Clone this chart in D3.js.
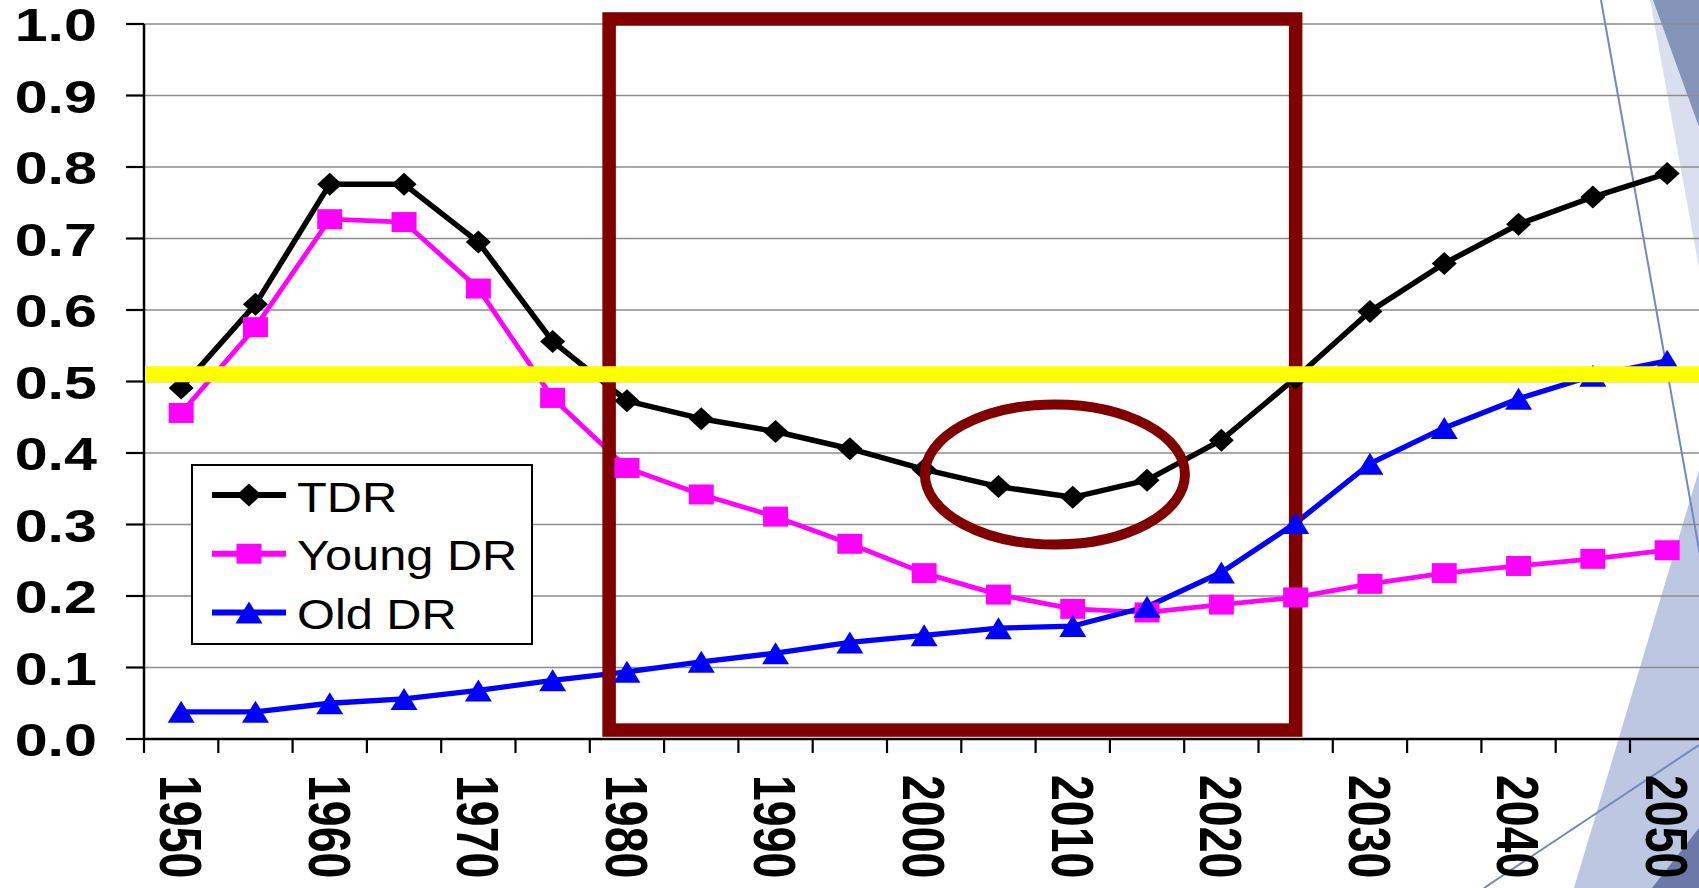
<!DOCTYPE html>
<html><head><meta charset="utf-8">
<script src="https://cdn.jsdelivr.net/npm/d3@7"></script>
<style>html,body{margin:0;padding:0;background:#fff;overflow:hidden}</style>
</head><body>
<svg id="c" width="1699" height="888"></svg>
<script>
// ---------- data ----------
const years = ["1950","1955","1960","1965","1970","1975","1980","1985","1990","1995","2000",
               "2005","2010","2015","2020","2025","2030","2035","2040","2045","2050"];
const tdr     = [0.491,0.608,0.776,0.776,0.695,0.556,0.473,0.448,0.430,0.406,0.377,
                 0.353,0.338,0.362,0.418,0.505,0.598,0.665,0.720,0.758,0.791];
const youngDR = [0.456,0.576,0.727,0.723,0.630,0.477,0.379,0.342,0.311,0.273,0.232,
                 0.202,0.182,0.177,0.188,0.198,0.217,0.232,0.242,0.252,0.264];
const oldDR   = [0.038,0.038,0.050,0.056,0.068,0.082,0.094,0.108,0.120,0.135,0.145,
                 0.155,0.158,0.185,0.233,0.302,0.385,0.435,0.476,0.508,0.529];
const seriesNames = ["TDR","Young DR","Old DR"];
const yTicks = [0,0.1,0.2,0.3,0.4,0.5,0.6,0.7,0.8,0.9,1.0];
const xTickLabels = ["1950","1960","1970","1980","1990","2000","2010","2020","2030","2040","2050"];
const thresholdValue = 0.51;
const boxYears = [1978.8, 2025.0];
const boxValues = [0.0125, 1.007];
const ellipseCenter = [2008.8, 0.370];
const ellipseRadius = [8.75, 0.098];

(function () {
// ---------- setup ----------
const W = 1699, H = 888;
const svg = d3.select("#c");
const pLeft = 144, bandW = 74.3, pTop = 24, pBottom = 739;
const x = d3.scaleBand().domain(years).range([pLeft, pLeft + years.length * bandW]).padding(0);
const y = d3.scaleLinear().domain([0, 1]).range([pBottom, pTop]);
const cx = d => x(d) + x.bandwidth() / 2;
const yearX = d3.scaleLinear().domain([+years[0], +years[years.length - 1]])
  .range([cx(years[0]), cx(years[years.length - 1])]);

// ---------- decorative slide shapes ----------
const deco = svg.append("g");
deco.append("polygon").attr("points", "1650,0 1699,0 1699,268").attr("fill", "#d9dfee");
deco.append("polygon").attr("points", "1653,0 1699,0 1699,127").attr("fill", "#8494b9");
deco.append("polygon").attr("points", "1699,470 1699,888 1574,888").attr("fill", "#bdc7e1");
deco.append("polygon").attr("points", "1699,828 1699,888 1652,888").attr("fill", "#6a79a8");
deco.append("line").attr("x1", 1601).attr("y1", 0).attr("x2", 1700).attr("y2", 555)
  .attr("stroke", "#7288c2").attr("stroke-width", 2);
deco.append("line").attr("x1", 1484).attr("y1", 888).attr("x2", 1699).attr("y2", 745)
  .attr("stroke", "#7288c2").attr("stroke-width", 2);

// ---------- gridlines ----------
svg.append("g").selectAll("line").data(yTicks.filter(d => d > 0)).join("line")
  .attr("x1", pLeft).attr("x2", W).attr("y1", d => y(d)).attr("y2", d => y(d))
  .attr("stroke", "#8c8c8c").attr("stroke-width", 1.6);

// ---------- axes ----------
const ax = svg.append("g").attr("stroke", "#000");
ax.append("line").attr("x1", pLeft).attr("x2", pLeft).attr("y1", pTop).attr("y2", pBottom + 1).attr("stroke-width", 2.5);
ax.append("line").attr("x1", pLeft).attr("x2", W).attr("y1", pBottom).attr("y2", pBottom).attr("stroke-width", 2.5);
ax.append("g").selectAll("line").data(yTicks).join("line")
  .attr("x1", pLeft - 18).attr("x2", pLeft).attr("y1", d => y(d)).attr("y2", d => y(d)).attr("stroke-width", 2.2);
ax.append("g").selectAll("line").data(years).join("line")
  .attr("x1", d => x(d)).attr("x2", d => x(d)).attr("y1", pBottom).attr("y2", pBottom + 14).attr("stroke-width", 2.2);

const fmt = d3.format(".1f");
svg.append("g").selectAll("text").data(yTicks).join("text")
  .attr("transform", d => `translate(97,${y(d) + 17}) scale(1.26,1)`)
  .attr("text-anchor", "end")
  .attr("font-family", "Liberation Sans, Arial, sans-serif")
  .attr("font-weight", "bold").attr("font-size", 47)
  .attr("fill", "#000").text(d => fmt(d));

const xfs = 46.5;
svg.append("g").selectAll("text").data(xTickLabels).join("text")
  .attr("transform", d => `translate(${cx(d)},775) scale(1.27,1) rotate(90)`)
  .attr("x", 0).attr("y", 0.358 * xfs)
  .attr("text-anchor", "start")
  .attr("font-family", "Liberation Sans, Arial, sans-serif")
  .attr("font-weight", "bold").attr("font-size", xfs)
  .attr("fill", "#000").text(d => d);

// ---------- series ----------
const series = [
  {name: seriesNames[0], values: tdr, color: "#000000", width: 5.5, shape: "diamond"},
  {name: seriesNames[1], values: youngDR, color: "#ff00ff", width: 4.8, shape: "square"},
  {name: seriesNames[2], values: oldDR, color: "#0000ff", width: 5.3, shape: "triangle"}
];
const shapes = {
  diamond: "M0,-11.5L12.5,0L0,11.5L-12.5,0Z",
  square: "M-12.5,-10L12.5,-10L12.5,10L-12.5,10Z",
  triangle: "M0,-11L13.5,11L-13.5,11Z"
};
const line = d3.line().x((d, i) => cx(years[i])).y(d => y(d));
const linesG = svg.append("g");
series.forEach(s => {
  linesG.append("path").datum(s.values).attr("d", line)
    .attr("fill", "none").attr("stroke", s.color).attr("stroke-width", s.width)
    .attr("stroke-linejoin", "round");
});

// ---------- red box annotation ----------
svg.append("rect")
  .attr("x", yearX(boxYears[0])).attr("y", y(boxValues[1]))
  .attr("width", yearX(boxYears[1]) - yearX(boxYears[0]))
  .attr("height", y(boxValues[0]) - y(boxValues[1]))
  .attr("fill", "none").attr("stroke", "#800000").attr("stroke-width", 13.5);

// ---------- markers ----------
const markG = svg.append("g");
series.forEach(s => {
  markG.append("g").selectAll("path").data(s.values).join("path")
    .attr("transform", (d, i) => `translate(${cx(years[i])},${y(d)})`)
    .attr("d", shapes[s.shape]).attr("fill", s.color);
});

// ---------- threshold line ----------
svg.append("line").attr("x1", pLeft + 1).attr("x2", W)
  .attr("y1", y(thresholdValue)).attr("y2", y(thresholdValue))
  .attr("stroke", "#ffff00").attr("stroke-width", 16);

// ---------- ellipse ----------
svg.append("ellipse")
  .attr("cx", yearX(ellipseCenter[0])).attr("cy", y(ellipseCenter[1]))
  .attr("rx", yearX(ellipseCenter[0] + ellipseRadius[0]) - yearX(ellipseCenter[0]))
  .attr("ry", y(0) - y(ellipseRadius[1]))
  .attr("fill", "none").attr("stroke", "#800000").attr("stroke-width", 10);

// ---------- legend ----------
const lg = svg.append("g");
lg.append("rect").attr("x", 192).attr("y", 465).attr("width", 340).attr("height", 179)
  .attr("fill", "#fff").attr("stroke", "#000").attr("stroke-width", 2);
series.forEach((s, i) => {
  const ly = 495 + i * 58.7;
  lg.append("line").attr("x1", 212).attr("x2", 286).attr("y1", ly).attr("y2", ly)
    .attr("stroke", s.color).attr("stroke-width", 6);
  lg.append("path").attr("transform", `translate(249,${ly})`).attr("d", shapes[s.shape]).attr("fill", s.color);
  lg.append("text").attr("transform", `translate(297,${ly + 16.5}) scale(1.16,1)`)
    .attr("font-family", "Liberation Sans, Arial, sans-serif").attr("font-size", 42)
    .attr("fill", "#000").text(s.name);
});
})();
</script>
</body></html>
